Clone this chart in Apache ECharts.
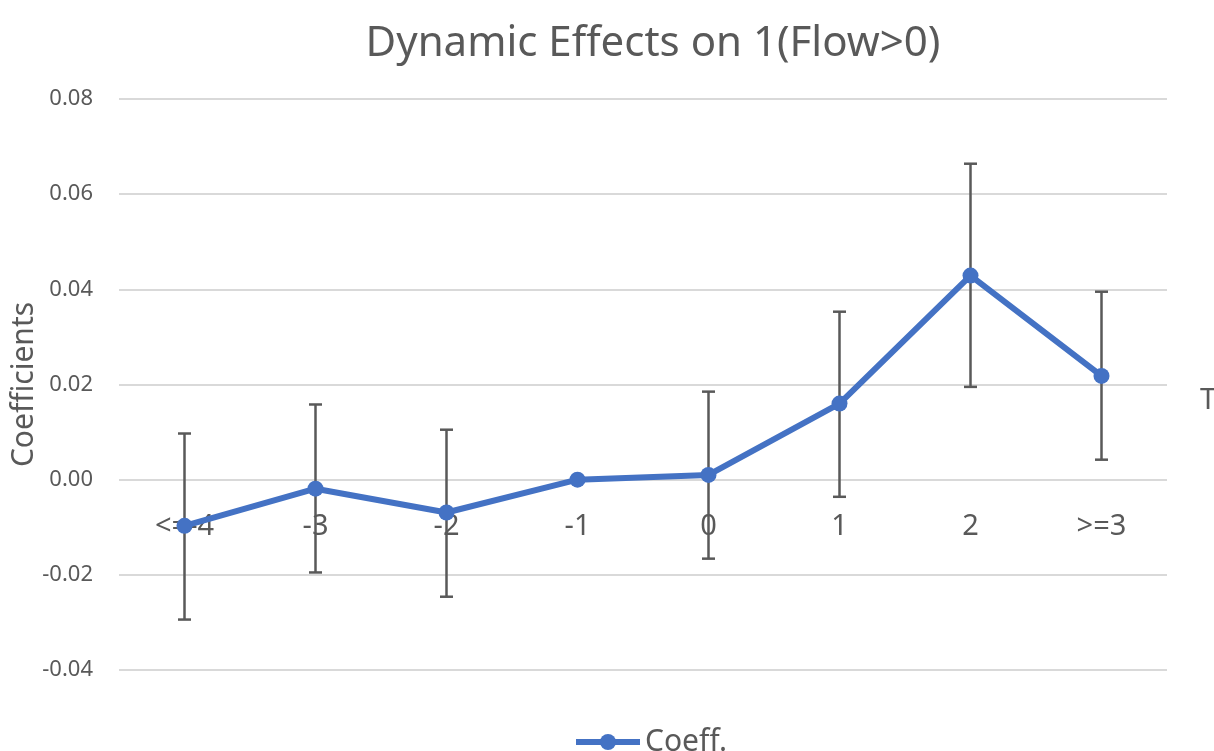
<!DOCTYPE html>
<html><head><meta charset="utf-8">
<script src="https://cdn.jsdelivr.net/npm/echarts@6/dist/echarts.min.js"></script>
<style>html,body{margin:0;padding:0;background:#fff}#c{width:1214px;height:751px}</style>
</head><body><div id="c"></div>
<script>
const categories = ['<=-4','-3','-2','-1','0','1','2','>=3'];
const coeff = [-0.0097, -0.0019, -0.0069, 0.0, 0.0010, 0.0160, 0.0429, 0.0218];
const ciLow = [-0.0294, -0.0195, -0.0246, null, -0.0166, -0.0036, 0.0195, 0.0042];
const ciHigh = [0.0097, 0.0158, 0.0105, null, 0.0185, 0.0353, 0.0664, 0.0395];
const yTicks = {min: -0.04, max: 0.08, interval: 0.02};

const font = 'Noto Sans';
const grey = '#595959';
const blue = '#4472C4';
const chart = echarts.init(document.getElementById('c'));
const errData = categories.map((c, i) => [i, ciLow[i], ciHigh[i]]).filter(d => d[1] !== null);
chart.setOption({
  animation: false,
  title: {text: 'Dynamic Effects on 1(Flow>0)', left: 648, textAlign: 'center', top: 18,
    textStyle: {fontFamily: font, fontSize: 42, fontWeight: 'normal', color: grey}},
  grid: {left: 119, right: 47, top: 99, bottom: 81, outerBoundsMode: 'none', containLabel: false},
  legend: {bottom: -11, left: 568, itemWidth: 64, itemHeight: 20, itemGap: 2,
    lineStyle: {width: 6, color: blue}, itemStyle: {color: blue},
    textStyle: {fontFamily: font, fontSize: 30, color: grey},
    data: ['Coeff.']},
  xAxis: {type: 'category', data: categories, boundaryGap: true,
    axisLine: {show: true, onZero: false, lineStyle: {color: 'rgba(0,0,0,0)'}}, axisTick: {show: false},
    axisLabel: {fontFamily: font, fontSize: 29, color: grey, margin: 33}},
  yAxis: {type: 'value', min: yTicks.min, max: yTicks.max, interval: yTicks.interval,
    name: 'Coefficients', nameLocation: 'middle', nameGap: 80, nameRotate: 90,
    nameMoveOverlap: false,
    nameTextStyle: {fontFamily: font, fontSize: 30, color: grey},
    axisLabel: {fontFamily: font, fontSize: 22, color: grey, margin: 26,
      formatter: v => v.toFixed(2)},
    splitLine: {lineStyle: {color: '#d9d9d9', width: 2}}},
  graphic: [{type: 'text', left: 1200, top: 386,
    style: {text: 'Time', fontFamily: font, fontSize: 29, fill: grey}}],
  series: [
    {name: 'Coeff.', type: 'line', data: coeff, symbol: 'circle', symbolSize: 16,
      lineStyle: {color: blue, width: 6}, itemStyle: {color: blue}, z: 3},
    {name: 'err', type: 'custom', data: errData, z: 2,
      renderItem: function (params, api) {
        const lo = api.coord([api.value(0), api.value(1)]);
        const hi = api.coord([api.value(0), api.value(2)]);
        const w = 6.5;
        const st = {stroke: grey, lineWidth: 2.5};
        return {type: 'group', children: [
          {type: 'line', shape: {x1: lo[0], y1: lo[1], x2: hi[0], y2: hi[1]}, style: st},
          {type: 'line', shape: {x1: lo[0]-w, y1: lo[1], x2: lo[0]+w, y2: lo[1]}, style: st},
          {type: 'line', shape: {x1: hi[0]-w, y1: hi[1], x2: hi[0]+w, y2: hi[1]}, style: st}
        ]};
      }}
  ]
});
// Place the category labels at the y = 0 line, using the library's own scale.
const zeroY = chart.convertToPixel({yAxisIndex: 0}, 0);
const bottomY = chart.convertToPixel({yAxisIndex: 0}, yTicks.min);
chart.setOption({xAxis: {offset: zeroY - bottomY}});
</script></body></html>
